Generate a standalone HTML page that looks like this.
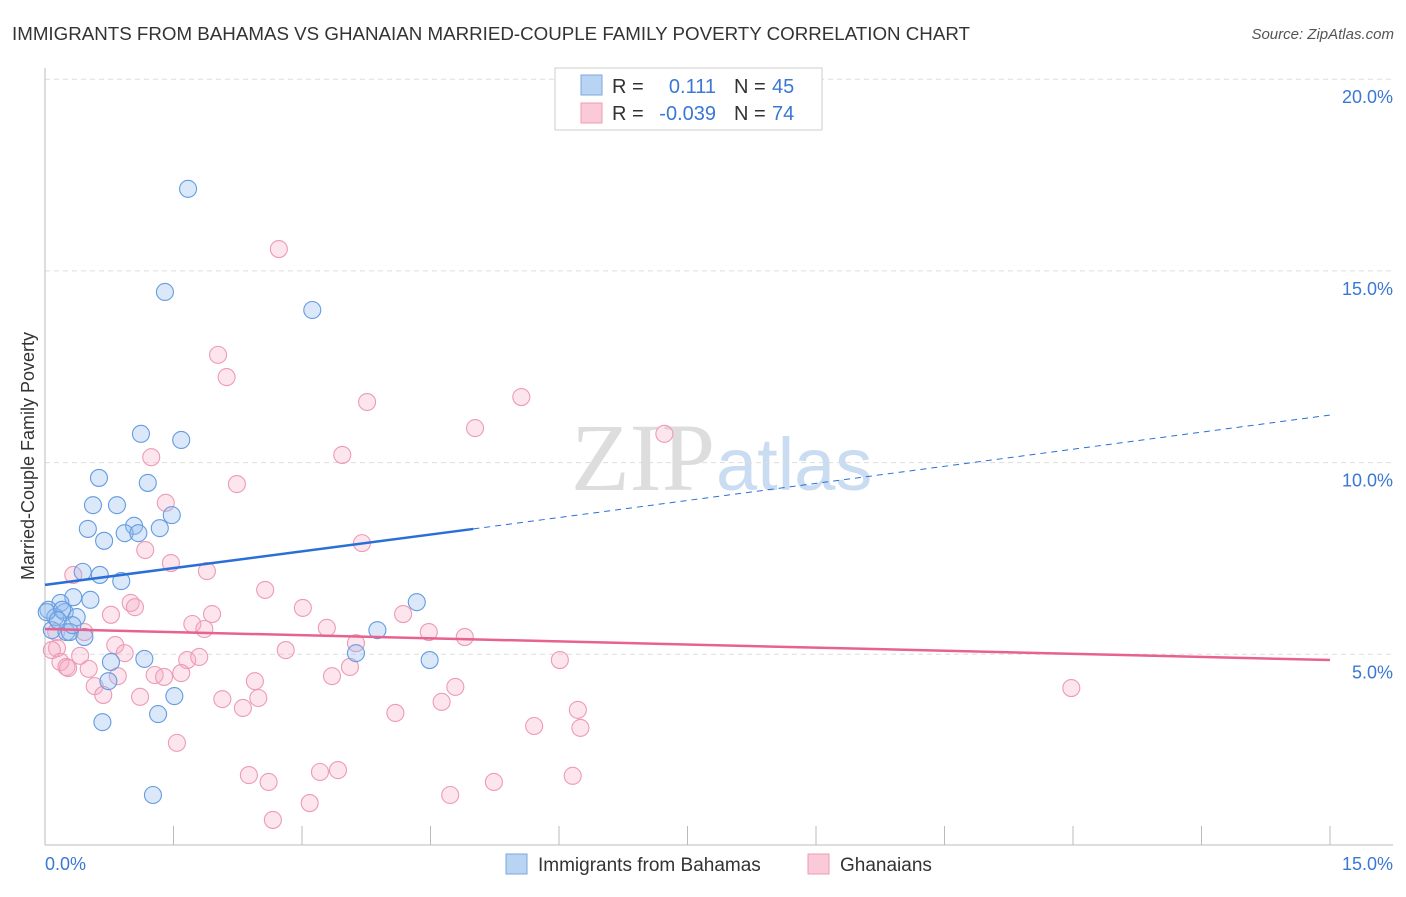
<!DOCTYPE html>
<html><head><meta charset="utf-8"><style>
body{margin:0;background:#fff;font-family:"Liberation Sans",sans-serif;}
svg text{font-family:"Liberation Sans",sans-serif;}
</style></head><body>
<svg width="1406" height="892" viewBox="0 0 1406 892" xmlns="http://www.w3.org/2000/svg" id="chart">
<text x="12" y="40" font-size="18" fill="#333" textLength="958" lengthAdjust="spacingAndGlyphs">IMMIGRANTS FROM BAHAMAS VS GHANAIAN MARRIED-COUPLE FAMILY POVERTY CORRELATION CHART</text>
<text x="1394" y="39" font-size="15" fill="#555" font-style="italic" text-anchor="end">Source: ZipAtlas.com</text>
<text x="715" y="490" font-size="96" fill="#ddd" text-anchor="end" font-family="Liberation Serif" style="font-family:'Liberation Serif',serif">ZIP</text>
<text x="716" y="490" font-size="74" fill="#c9dcf2">atlas</text>
<g id="grid"></g>
<g id="axes"></g>
<g id="marks"></g>
<text transform="translate(34,456) rotate(-90)" font-size="18" fill="#333" text-anchor="middle">Married-Couple Family Poverty</text>
<text x="45" y="870" font-size="18" fill="#3a78d4">0.0%</text>
<text x="1393" y="870" font-size="18" fill="#3a78d4" text-anchor="end">15.0%</text>
<g>
<rect x="555" y="68" width="267" height="62" fill="#fff" stroke="#ccc"/>
<rect x="581" y="75" width="21" height="20" fill="#b9d3f3" stroke="#7aa7e0"/>
<rect x="581" y="103" width="21" height="20" fill="#fbcad8" stroke="#ef9bb5"/>
<text x="612" y="93" font-size="20" fill="#333">R =</text>
<text x="716" y="93" font-size="20" fill="#3a78d4" text-anchor="end">0.111</text>
<text x="734" y="93" font-size="20" fill="#333">N =</text>
<text x="772" y="93" font-size="20" fill="#3a78d4">45</text>
<text x="612" y="120" font-size="20" fill="#333">R =</text>
<text x="716" y="120" font-size="20" fill="#3a78d4" text-anchor="end">-0.039</text>
<text x="734" y="120" font-size="20" fill="#333">N =</text>
<text x="772" y="120" font-size="20" fill="#3a78d4">74</text>
</g>
<g>
<rect x="506" y="854" width="21" height="20" fill="#b9d3f3" stroke="#7aa7e0"/>
<text x="538" y="871" font-size="19" fill="#333">Immigrants from Bahamas</text>
<rect x="808" y="854" width="21" height="20" fill="#fbcad8" stroke="#ef9bb5"/>
<text x="840" y="871" font-size="19" fill="#333">Ghanaians</text>
</g>
</svg>
<script>
const yTicks=[5,10,15,20];
const yTickLabels=["5.0%","10.0%","15.0%","20.0%"];
const xTicks=[0,1.5,3,4.5,6,7.5,9,10.5,12,13.5,15];
const blueX=[1.67,1.40,3.12,1.12,1.59,0.63,1.20,0.56,0.84,1.48,0.50,1.04,0.69,0.93,1.09,1.34,0.44,0.64,0.89,0.33,0.53,0.18,0.04,0.23,0.12,0.37,0.08,0.25,0.29,0.46,4.34,3.88,3.63,4.49,1.16,0.77,0.74,1.51,1.32,0.67,1.26,0.02,0.20,0.15,0.32];
const blueY=[17.14,14.45,13.98,10.75,10.59,9.60,9.47,8.89,8.89,8.63,8.27,8.35,7.96,8.16,8.16,8.29,7.15,7.07,6.91,6.49,6.42,6.34,6.16,6.10,5.97,5.97,5.63,5.58,5.58,5.45,6.36,5.63,5.03,4.85,4.88,4.80,4.30,3.91,3.44,3.23,1.33,6.10,6.16,5.89,5.76];
const pinkX=[2.73,2.02,2.12,3.76,5.56,5.02,7.23,3.47,1.24,2.24,1.41,1.17,3.70,1.47,1.89,2.57,0.33,0.77,1.00,1.05,3.01,1.95,1.72,1.86,3.29,4.18,4.48,4.90,0.46,0.13,0.82,0.93,2.81,3.63,6.01,0.41,1.66,1.80,3.56,0.14,0.08,0.18,0.25,0.51,0.85,1.28,1.39,1.59,2.45,3.35,4.79,11.98,0.58,0.68,1.11,2.07,2.49,2.31,4.63,4.09,6.22,5.71,6.25,1.54,2.38,2.61,3.21,3.42,6.16,5.24,4.73,3.09,2.66,0.27];
const pinkY=[15.57,12.81,12.23,11.58,11.71,10.90,10.75,10.20,10.14,9.44,8.95,7.72,7.90,7.38,7.17,6.68,7.07,6.03,6.34,6.23,6.21,6.05,5.79,5.66,5.69,6.05,5.58,5.45,5.58,5.58,5.24,5.03,5.11,5.29,4.85,4.96,4.85,4.93,4.67,5.16,5.11,4.80,4.67,4.62,4.43,4.46,4.41,4.51,4.30,4.43,4.15,4.12,4.17,3.94,3.89,3.83,3.86,3.60,3.76,3.47,3.55,3.13,3.08,2.69,1.85,1.67,1.93,1.98,1.83,1.67,1.33,1.12,0.68,4.64];
const blueTrend=[[0,6.81],[5.0,8.27],[15,11.24]];
const pinkTrend=[[0,5.66],[15,4.85]];
const NS="http://www.w3.org/2000/svg";
const X0=45,X1=1330,Yb=846,PX5=191.7;
function sx(v){return X0+(v/15)*(X1-X0);}
function sy(v){return Yb-v/5*PX5;}
function mk(tag,attrs,parent){const e=document.createElementNS(NS,tag);for(const k in attrs)e.setAttribute(k,attrs[k]);parent.appendChild(e);return e;}
const grid=document.getElementById('grid'),axes=document.getElementById('axes'),marks=document.getElementById('marks');
yTicks.forEach((t,i)=>{
 const l=mk('line',{x1:X0,x2:1393,y1:sy(t),y2:sy(t),stroke:'#ddd','stroke-dasharray':'5,4'},grid);
 
 
 const tx=mk('text',{x:1393,y:sy(t)+24,'font-size':18,fill:'#3a78d4','text-anchor':'end'},axes);
 tx.textContent=yTickLabels[i];
 
 
});
const ax=mk('line',{x1:X0,x2:X0,y1:68,y2:845,stroke:'#bbb'},axes);


const bx=mk('line',{x1:X0,x2:1393,y1:845,y2:845,stroke:'#bbb'},axes);


xTicks.forEach(t=>{
 const l=mk('line',{x1:sx(t),x2:sx(t),y1:826,y2:845,stroke:'#bbb'},axes);
 
 
});
pinkX.forEach((v,i)=>{
 const c=mk('circle',{cx:sx(v),cy:sy(pinkY[i]),r:8.5,fill:'rgba(246,170,195,0.3)',stroke:'#ee9ab6','stroke-width':1.1},marks);
 
 
});
blueX.forEach((v,i)=>{
 const c=mk('circle',{cx:sx(v),cy:sy(blueY[i]),r:8.5,fill:'rgba(150,190,238,0.35)',stroke:'#649ce0','stroke-width':1.1},marks);
 
 
});
const bl=mk('line',{x1:sx(blueTrend[0][0]),y1:sy(blueTrend[0][1]),x2:sx(blueTrend[1][0]),y2:sy(blueTrend[1][1]),stroke:'#2a6fd6','stroke-width':2.5},marks);


const bd=mk('line',{x1:sx(blueTrend[1][0]),y1:sy(blueTrend[1][1]),x2:sx(blueTrend[2][0]),y2:sy(blueTrend[2][1]),stroke:'#2a6fd6','stroke-width':1,'stroke-dasharray':'6,5'},marks);


const pl=mk('line',{x1:sx(pinkTrend[0][0]),y1:sy(pinkTrend[0][1]),x2:sx(pinkTrend[1][0]),y2:sy(pinkTrend[1][1]),stroke:'#e8628e','stroke-width':2.5},marks);


</script>
</body></html>
